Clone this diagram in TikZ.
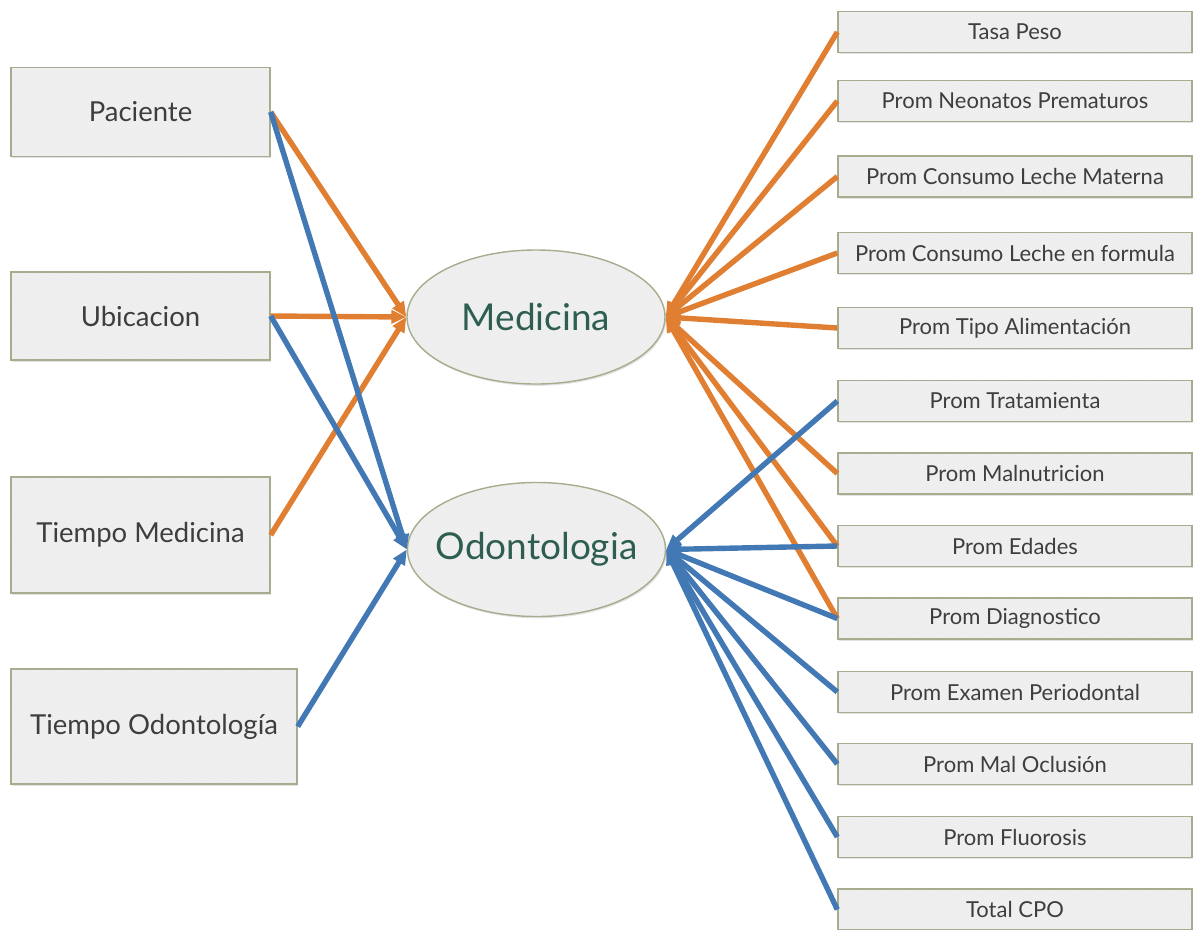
\documentclass[tikz,border=0pt]{standalone}
\usepackage{fontspec}
\setmainfont{Lato}
\usetikzlibrary{arrows.meta,shapes.geometric,shadows,patterns}

\definecolor{medorange}{RGB}{224,126,50}
\definecolor{odoblue}{RGB}{66,121,181}
\definecolor{boxfill}{RGB}{236,236,236}
\definecolor{boxhatch}{RGB}{245,245,245}
\definecolor{boxline}{RGB}{166,172,142}
\definecolor{boxtext}{RGB}{62,62,62}
\definecolor{hubtext}{RGB}{46,94,82}

\tikzset{
  % shadow, then flat fill, then faint hatching; the outline is drawn last
  surface/.style={
    drop shadow={opacity=0.22, shadow xshift=1.2pt, shadow yshift=-1.8pt},
    preaction={fill=boxfill},
    preaction={pattern=north east lines, pattern color=boxhatch},
    draw=boxline, line width=1.4pt},
  panel/.style={surface, text=boxtext, inner sep=0pt, align=center},
  srcbox/.style={panel, font=\fontsize{27.5}{32}\selectfont},
  varbox/.style={panel, minimum width=354pt, minimum height=41pt,
    font=\fontsize{22}{26}\selectfont},
  hub/.style={ellipse, surface,
    minimum width=258pt, minimum height=134pt, inner sep=0pt,
    text=hubtext, font=\fontsize{37}{42}\selectfont},
  medlink/.style={draw=medorange, line width=5.4pt,
    -{Triangle[length=15pt,width=13pt]}},
  odolink/.style={draw=odoblue, line width=5.4pt,
    -{Triangle[length=15pt,width=13pt]}},
}

\begin{document}
\begin{tikzpicture}[x=1pt,y=-1pt]
\useasboundingbox (0,0) rectangle (1193,929);

% hubs (labels kept out of the ellipse's size computation)
\node[hub] (med) at (536,317) {\makebox[0pt]{Medicina}};
\node[hub] (odo) at (536.5,549.5) {\makebox[0pt]{Odontologia}};

% sources on the left
\node[srcbox, minimum width=259pt, minimum height=89pt]  (pac) at (140.5,112)   {Paciente};
\node[srcbox, minimum width=259pt, minimum height=88pt]  (ubi) at (140.5,316)   {Ubicacion};
\node[srcbox, minimum width=259pt, minimum height=116pt] (tmed) at (140.5,535)  {Tiempo Medicina};
\node[srcbox, minimum width=286pt, minimum height=115pt] (todo) at (154,726.5)  {Tiempo Odontología};

% indicators on the right
\node[varbox] (tasa) at (1015,32)    {Tasa Peso};
\node[varbox] (neo)  at (1015,101)   {Prom Neonatos Prematuros};
\node[varbox] (lmat) at (1015,176.5) {Prom Consumo Leche Materna};
\node[varbox] (lfor) at (1015,253)   {Prom Consumo Leche en formula};
\node[varbox] (alim) at (1015,328)   {Prom Tipo Alimentación};
\node[varbox] (trat) at (1015,401)   {Prom Tratamienta};
\node[varbox] (maln) at (1015,473.5) {Prom Malnutricion};
\node[varbox] (edad) at (1015,546)   {Prom Edades};
\node[varbox] (diag) at (1015,618.5) {Prom Diagnostico};
\node[varbox] (peri) at (1015,692)   {Prom Examen Periodontal};
\node[varbox] (ocl)  at (1015,764)   {Prom Mal Oclusión};
\node[varbox] (fluo) at (1015,837)   {Prom Fluorosis};
\node[varbox] (cpo)  at (1015,909.5) {Total CPO};

% links into Medicina
\draw[medlink] (pac.east)  -- (med.west);
\draw[medlink] (ubi.east)  -- (med.west);
\draw[medlink] (tmed.east) -- (med.west);
\foreach \v in {tasa,neo,lmat,lfor,alim,maln,edad,diag}
  \draw[medlink] (\v.west) -- (med.east);

% links into Odontologia
\draw[odolink] (pac.east)  -- (odo.west);
\draw[odolink] (ubi.east)  -- (odo.west);
\draw[odolink] (todo.east) -- (odo.west);
\foreach \v in {trat,edad,diag,peri,ocl,fluo,cpo}
  \draw[odolink] (\v.west) -- (odo.east);
\end{tikzpicture}
\end{document}
